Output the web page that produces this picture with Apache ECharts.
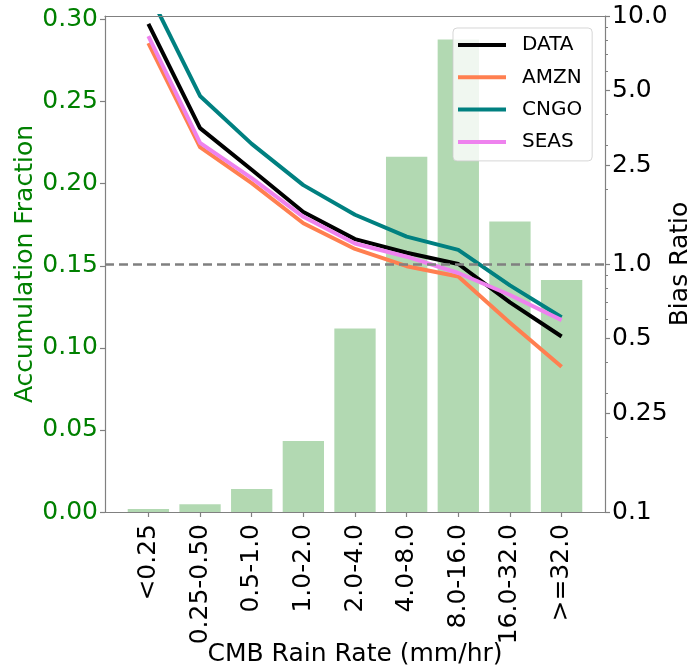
<!DOCTYPE html>
<html><head><meta charset="utf-8">
<script src="https://cdn.jsdelivr.net/npm/echarts@6/dist/echarts.min.js"></script>
<style>html,body{margin:0;padding:0;background:#fff}#c{width:693px;height:671px}</style>
</head><body><div id="c"></div>
<script>
const categories = ['<0.25','0.25-0.50','0.5-1.0','1.0-2.0','2.0-4.0','4.0-8.0','8.0-16.0','16.0-32.0','>=32.0'];
const accumFraction = [0.0018,0.0047,0.014,0.0433,0.1118,0.2165,0.2878,0.177,0.1414];
const biasDATA = [9.29,3.53,2.40,1.62,1.26,1.11,1.00,0.70,0.51];
const biasAMZN = [7.78,2.96,2.12,1.46,1.15,0.98,0.89,0.58,0.385];
const biasCNGO = [12.5,4.76,3.05,2.08,1.58,1.29,1.14,0.82,0.61];
const biasSEAS = [8.3,3.08,2.22,1.55,1.21,1.07,0.92,0.75,0.594];
const leftTicks = [0,0.05,0.10,0.15,0.20,0.25,0.30];
const rightTicks = [0.1,0.25,0.5,1.0,2.5,5.0,10.0];
const rightTickLabels = ['0.1','0.25','0.5','1.0','2.5','5.0','10.0'];
const rightMinorTicks = [0.2,0.3,0.4,0.6,0.7,0.8,0.9,2,3,4,6,7,8,9];
const refRatio = 1.0;

const n = categories.length;
const span = (n - 1) + 0.8;
const xMin = -0.4 - 0.05 * span;
const xMax = (n - 1) + 0.4 + 0.05 * span;
const gridL = 105, gridR = 88, gridT = 16, gridB = 159;
const plotW = 693 - gridL - gridR;
const barW = plotW * 0.8 / (xMax - xMin);
const leftMax = Math.max(...accumFraction) * 1.05;
const idx = categories.map((c, i) => i);
const spine = '#808080';
const FONT = 'DejaVu Sans';

function lineSeries(name, vals, color) {
  return {
    name, type: 'line', xAxisIndex: 0, yAxisIndex: 1,
    data: vals.map((v, i) => [i, v]),
    symbol: 'none', z: 4,
    lineStyle: {color, width: 4, join: 'round'},
    itemStyle: {color}
  };
}

const chart = echarts.init(document.getElementById('c'));
chart.setOption({
  animation: false,
  textStyle: {fontFamily: FONT},
  grid: {left: gridL, right: gridR, top: gridT, bottom: gridB, outerBoundsMode: 'none'},
  legend: {
    data: ['DATA','AMZN','CNGO','SEAS'],
    orient: 'vertical', left: 453, top: 28,
    padding: [7, 10, 9, 5],
    itemWidth: 48, itemHeight: 4, itemGap: 12.3,
    icon: 'rect',
    backgroundColor: 'rgba(255,255,255,0.8)', borderColor: 'rgba(204,204,204,0.8)', borderWidth: 1, borderRadius: 4,
    textStyle: {fontSize: 20, color: '#000', padding: [0,0,0,11], lineHeight: 20, fontFamily: FONT}
  },
  xAxis: [{
    type: 'value', min: xMin, max: xMax, position: 'bottom', z: 10,
    axisLine: {show: true, onZero: false, lineStyle: {color: spine, width: 1.2}},
    axisTick: {show: true, customValues: idx, length: 5, lineStyle: {color: spine, width: 1.2}},
    axisLabel: {customValues: idx, rotate: 90, margin: 12, fontSize: 25, color: '#000', fontFamily: FONT,
      formatter: v => categories[Math.round(v)]},
    splitLine: {show: false},
    name: 'CMB Rain Rate (mm/hr)', nameLocation: 'middle', nameGap: 130, nameMoveOverlap: false,
    nameTextStyle: {fontSize: 25, color: '#000', fontFamily: FONT}
  }, {
    type: 'value', min: xMin, max: xMax, position: 'top', z: 10,
    axisLine: {show: true, onZero: false, lineStyle: {color: spine, width: 1.2}},
    axisTick: {show: false}, axisLabel: {show: false}, splitLine: {show: false}
  }],
  yAxis: [{
    type: 'value', min: 0, max: leftMax, position: 'left', z: 10,
    axisLine: {show: true, onZero: false, lineStyle: {color: spine, width: 1.2}},
    axisTick: {show: true, customValues: leftTicks, length: 5, lineStyle: {color: spine, width: 1.2}},
    axisLabel: {customValues: leftTicks, margin: 7, fontSize: 25, color: '#008000', fontFamily: FONT,
      formatter: v => v.toFixed(2)},
    splitLine: {show: false},
    name: 'Accumulation Fraction', nameLocation: 'middle', nameGap: 67, nameMoveOverlap: false,
    nameTextStyle: {fontSize: 25, color: '#008000', fontFamily: FONT}
  }, {
    type: 'log', logBase: 10, min: 0.1, max: 10, position: 'right', z: 10,
    axisLine: {show: true, onZero: false, lineStyle: {color: spine, width: 1.2}},
    axisTick: {show: true, customValues: rightTicks, length: 5, lineStyle: {color: spine, width: 1.2}},
    axisLabel: {customValues: rightTicks, margin: 7, fontSize: 25, color: '#000', fontFamily: FONT,
      formatter: v => { const k = rightTicks.findIndex(t => Math.abs(t - v) / t < 1e-4); return k >= 0 ? rightTickLabels[k] : ''; }},
    splitLine: {show: false},
    name: 'Bias Ratio', nameLocation: 'middle', nameGap: 63, nameMoveOverlap: false,
    nameTextStyle: {fontSize: 25, color: '#000', fontFamily: FONT}
  }, {
    type: 'log', logBase: 10, min: 0.1, max: 10, position: 'right', z: 10,
    axisLine: {show: false, onZero: false},
    axisTick: {show: true, customValues: rightMinorTicks, length: 3, lineStyle: {color: spine, width: 1}},
    axisLabel: {show: false}, splitLine: {show: false}
  }],
  series: [{
    name: 'Accumulation Fraction', type: 'bar', xAxisIndex: 0, yAxisIndex: 0,
    data: accumFraction.map((v, i) => [i, v]),
    barWidth: barW, z: 2,
    itemStyle: {color: 'rgba(0,128,0,0.3)'}
  }, {
    name: 'ref', type: 'line', xAxisIndex: 0, yAxisIndex: 1, data: [], z: 3,
    markLine: {symbol: 'none', silent: true, label: {show: false},
      lineStyle: {type: [9, 5], color: '#808080', width: 2.5},
      data: [{yAxis: refRatio}]}
  },
  lineSeries('DATA', biasDATA, '#000000'),
  lineSeries('AMZN', biasAMZN, '#FF7F50'),
  lineSeries('CNGO', biasCNGO, '#008080'),
  lineSeries('SEAS', biasSEAS, '#EE82EE')
  ]
});
</script></body></html>
